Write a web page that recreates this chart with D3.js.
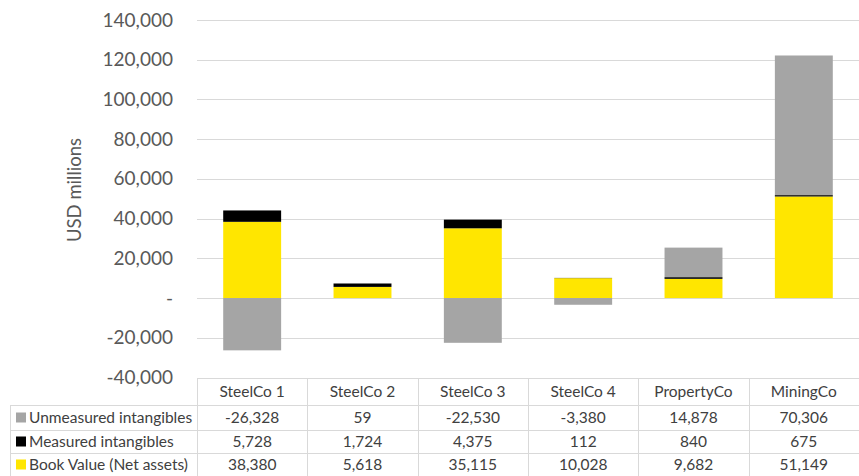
<!DOCTYPE html>
<html>
<head>
<meta charset="utf-8">
<script src="https://cdn.jsdelivr.net/npm/d3@7"></script>
<style>
  body { margin: 0; background: #fff; }
  text { font-family: Lato, "Open Sans", sans-serif; }
</style>
</head>
<body>
<svg id="chart" width="859" height="476"></svg>
<script>
// Data
var companies = ["SteelCo 1", "SteelCo 2", "SteelCo 3", "SteelCo 4", "PropertyCo", "MiningCo"];
var bookValue = [38380, 5618, 35115, 10028, 9682, 51149];
var measured = [5728, 1724, 4375, 112, 840, 675];
var unmeasured = [-26328, 59, -22530, -3380, 14878, 70306];
var yTicks = [-40000, -20000, 0, 20000, 40000, 60000, 80000, 100000, 120000, 140000];

// Series in stacking order (bottom first), table rows listed top first
var series = [
  {name: "Book Value (Net assets)", values: bookValue, color: "#FFE600"},
  {name: "Measured intangibles", values: measured, color: "#000000"},
  {name: "Unmeasured intangibles", values: unmeasured, color: "#A5A5A5"}
];

// plain hyphen for negatives, like the original
var fmt = function(d) { return d3.format(",")(d).replace("\u2212", "-"); };

var svg = d3.select("#chart");

var plotLeft = 197, plotRight = 859, plotTop = 20, plotBottom = 377.5;

var x = d3.scaleBand()
  .domain(companies)
  .range([plotLeft, plotRight])
  .padding(0);

var y = d3.scaleLinear()
  .domain([-40000, 140000])
  .range([plotBottom, plotTop]);

// Gridlines
svg.append("g")
  .selectAll("line")
  .data(yTicks)
  .enter()
  .append("line")
  .attr("x1", plotLeft)
  .attr("x2", plotRight)
  .attr("y1", function(d) { return Math.round(y(d)) + 0.5; })
  .attr("y2", function(d) { return Math.round(y(d)) + 0.5; })
  .attr("stroke", "#D9D9D9")
  .attr("stroke-width", 1);

// Y axis labels
var yAxis = svg.append("g")
  .attr("transform", "translate(" + (plotLeft - 24) + ",0)")
  .call(d3.axisLeft(y)
    .tickValues(yTicks)
    .tickSize(0)
    .tickPadding(0)
    .tickFormat(function(d) { return d == 0 ? "-" : fmt(d); }));
yAxis.select(".domain").remove();
yAxis.selectAll("text")
  .attr("font-family", "Lato, 'Open Sans', sans-serif")
  .attr("font-size", 19)
  .attr("fill", "#595959");

// Y axis title
svg.append("text")
  .attr("transform", "translate(81,190) rotate(-90)")
  .attr("text-anchor", "middle")
  .attr("font-size", 18.5)
  .attr("fill", "#595959")
  .text("USD millions");

// Build stacks: positives from 0 up, negatives from 0 down
var barWidth = x.bandwidth() * 0.525;
var rects = [];
companies.forEach(function(c, i) {
  var pos = 0, neg = 0;
  series.forEach(function(s) {
    var v = s.values[i];
    var y0, y1;
    if (v >= 0) { y0 = pos; y1 = pos + v; pos = y1; }
    else { y0 = neg; y1 = neg + v; neg = y1; }
    rects.push({company: c, y0: y0, y1: y1, color: s.color});
  });
});

svg.append("g")
  .selectAll("rect")
  .data(rects)
  .enter()
  .append("rect")
  .attr("x", function(d) { return x(d.company) + (x.bandwidth() - barWidth) / 2; })
  .attr("width", barWidth)
  .attr("y", function(d) { return y(Math.max(d.y0, d.y1)); })
  .attr("height", function(d) { return Math.abs(y(d.y0) - y(d.y1)); })
  .attr("fill", function(d) { return d.color; });

// Data table
var tableLeft = 10;
var rowEdges = [378, 405, 430, 453, 476];
var tableRows = [series[2], series[1], series[0]];
var tbl = svg.append("g");
var border = "#D9D9D9";

// horizontal lines
rowEdges.forEach(function(ry, k) {
  tbl.append("line")
    .attr("x1", k == 0 ? plotLeft : tableLeft)
    .attr("x2", plotRight)
    .attr("y1", ry + 0.5)
    .attr("y2", ry + 0.5)
    .attr("stroke", border);
});
// vertical lines
var colEdges = companies.map(function(c) { return x(c); });
colEdges.forEach(function(cx) {
  tbl.append("line")
    .attr("x1", Math.round(cx) + 0.5).attr("x2", Math.round(cx) + 0.5)
    .attr("y1", rowEdges[0]).attr("y2", 476)
    .attr("stroke", border);
});
tbl.append("line")
  .attr("x1", tableLeft + 0.5).attr("x2", tableLeft + 0.5)
  .attr("y1", rowEdges[1]).attr("y2", 476)
  .attr("stroke", border);

// header
tbl.selectAll(".hdr")
  .data(companies)
  .enter()
  .append("text")
  .attr("x", function(d) { return x(d) + x.bandwidth() / 2; })
  .attr("y", (rowEdges[0] + rowEdges[1]) / 2)
  .attr("dy", "0.35em")
  .attr("text-anchor", "middle")
  .attr("font-size", 15.5)
  .attr("fill", "#404040")
  .text(function(d) { return d; });

tableRows.forEach(function(s, r) {
  var cy = (rowEdges[r + 1] + rowEdges[r + 2]) / 2;
  tbl.append("rect")
    .attr("x", 16).attr("y", cy - 5)
    .attr("width", 10).attr("height", 10)
    .attr("fill", s.color);
  tbl.append("text")
    .attr("x", 29).attr("y", cy)
    .attr("dy", "0.35em")
    .attr("font-size", 15.5)
    .attr("fill", "#404040")
    .text(s.name);
  tbl.selectAll(".v" + r)
    .data(s.values)
    .enter()
    .append("text")
    .attr("x", function(d, i) { return x(companies[i]) + x.bandwidth() / 2; })
    .attr("y", cy)
    .attr("dy", "0.35em")
    .attr("text-anchor", "middle")
    .attr("font-size", 15.5)
    .attr("fill", "#404040")
    .text(function(d) { return fmt(d); });
});
</script>
</body>
</html>
